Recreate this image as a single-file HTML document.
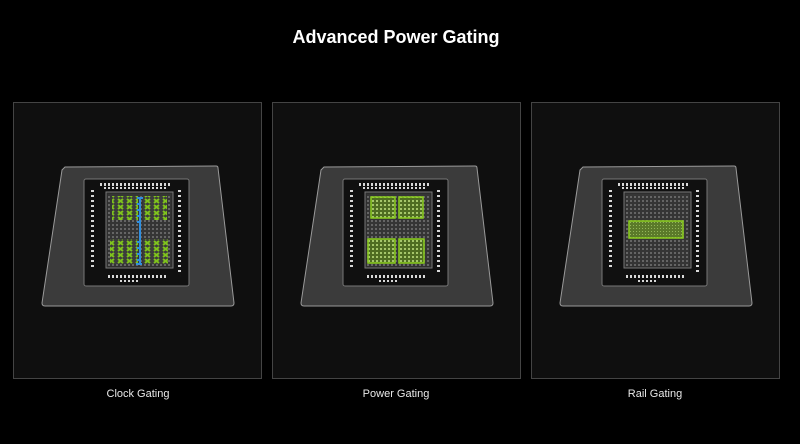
<!DOCTYPE html>
<html><head><meta charset="utf-8"><style>
html,body{margin:0;padding:0;background:#000;}
body{width:800px;height:439px;overflow:hidden;font-family:"Liberation Sans",sans-serif;}
</style></head><body>
<svg width="800" height="439" viewBox="0 0 800 439" xmlns="http://www.w3.org/2000/svg">
<defs>
<pattern id="grid" width="4" height="4" patternUnits="userSpaceOnUse">
<rect width="4" height="4" fill="#3a3a3a"/><rect x="0" y="0" width="2" height="2" fill="#8a8a8a"/>
</pattern>
<pattern id="gx" width="9" height="6" patternUnits="userSpaceOnUse">
<rect width="9" height="6" fill="#3c3c3c"/><path d="M1,1 L6,5 M6,1 L1,5" stroke="#7fc31c" stroke-width="2"/>
</pattern>
<pattern id="gg" width="4" height="4" patternUnits="userSpaceOnUse">
<rect width="4" height="4" fill="#4f6d22"/><rect width="2" height="2" fill="#a5c66a"/>
</pattern>
<pattern id="gn" width="3" height="3" patternUnits="userSpaceOnUse">
<rect width="3" height="3" fill="#5b7a2a"/><rect width="1" height="1" fill="#93b65a"/>
</pattern>
<pattern id="pinv" width="3" height="5" patternUnits="userSpaceOnUse">
<rect width="3" height="2" fill="#d8d8d8"/>
</pattern>
<pattern id="pinh" width="4" height="3" patternUnits="userSpaceOnUse">
<rect width="2" height="3" fill="#d8d8d8"/>
</pattern>
<g id="chip">
<path d="M65,167 L216,166 Q218,166 218,168 L234,303 Q234,306 231,306 L45,306 Q42,306 42,303 L62,170 Z" fill="#3b3b3b" stroke="#9a9a9a" stroke-width="1"/>
<rect x="84" y="179" width="105" height="107" rx="2" fill="#101010" stroke="#777" stroke-width="1"/>
<rect x="100" y="183" width="70" height="3" fill="url(#pinh)"/>
<rect x="102" y="187" width="66" height="2" fill="url(#pinh)"/>
<rect x="91" y="188" width="3" height="80" fill="url(#pinv)"/>
<rect x="178" y="188" width="3" height="85" fill="url(#pinv)"/>
<rect x="107" y="275" width="60" height="3" fill="url(#pinh)"/>
<rect x="118" y="280" width="22" height="2" fill="url(#pinh)"/>
<rect x="106" y="192" width="67" height="76" fill="#2e2e2e" stroke="#777" stroke-width="1"/>
<rect x="108" y="194" width="63" height="72" fill="url(#grid)" opacity="0.6"/>
</g>
</defs>
<text x="396" y="43" fill="#fff" font-size="18" font-weight="bold" text-anchor="middle">Advanced Power Gating</text>
<rect x="13.5" y="102.5" width="248" height="276" fill="#0f0f0f" stroke="#444"/>
<rect x="272.5" y="102.5" width="248" height="276" fill="#0f0f0f" stroke="#444"/>
<rect x="531.5" y="102.5" width="248" height="276" fill="#0f0f0f" stroke="#444"/>
<use href="#chip"/>
<use href="#chip" transform="translate(259,0)"/>
<use href="#chip" transform="translate(518,0)"/>
<rect x="112" y="196" width="26" height="24" fill="url(#gx)"/>
<rect x="143" y="196" width="24" height="24" fill="url(#gx)"/>
<rect x="110" y="239" width="28" height="25" fill="url(#gx)"/>
<rect x="143" y="239" width="25" height="25" fill="url(#gx)"/>
<path d="M140,197 V264 M137,198 H143 M137,204 H140 M137,210 H140 M137,216 H140 M137,222 H140 M137,242 H140 M137,248 H140 M137,254 H140 M137,260 H140 M136,264 H142" stroke="#2f8fe0" stroke-width="2" fill="none"/>
<g stroke="#8ccf1f" stroke-width="1.5" fill="url(#gg)">
<rect x="371" y="197" width="24" height="21"/>
<rect x="399" y="197" width="24" height="21"/>
<rect x="368" y="239" width="27" height="24"/>
<rect x="399" y="239" width="25" height="24"/>
</g>
<rect x="629" y="221" width="54" height="17" fill="url(#gn)" stroke="#8ccf1f" stroke-width="1.5"/>
<g fill="#e8e8e8" font-size="11" text-anchor="middle">
<text x="138" y="397">Clock Gating</text>
<text x="396" y="397">Power Gating</text>
<text x="655" y="397">Rail Gating</text>
</g>
</svg>
</body></html>
